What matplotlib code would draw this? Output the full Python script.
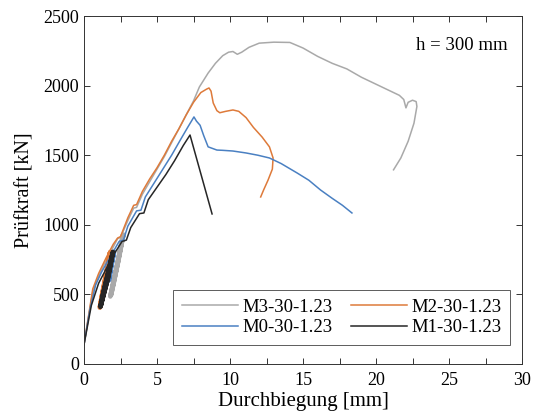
import matplotlib
matplotlib.use("Agg")
import matplotlib.pyplot as plt

plt.rcParams['font.family'] = ['Liberation Serif', 'DejaVu Serif']
plt.rcParams['mathtext.fontset'] = 'stix'

# ---- data (deflection mm, force kN) ----
m3_x = [0, 0.3, 0.6, 1.0, 1.5, 2.0, 2.3, 2.5, 3.0, 3.4, 3.6, 4.0, 4.5, 5.0, 5.5, 6.0, 6.5, 7.0, 7.5, 7.9,
        8.5, 9.0, 9.5, 9.9, 10.2, 10.5, 10.8, 11.3, 12.0, 13.0, 14.1, 15.0, 16.0, 17.0, 18.0, 19.0, 20.0,
        21.0, 21.6, 21.9, 22.05, 22.2, 22.5, 22.75, 22.8, 22.6, 22.2, 21.7, 21.2]
m3_y = [140, 330, 520, 630, 740, 840, 900, 910, 1030, 1120, 1125, 1220, 1310, 1400, 1490, 1590, 1690, 1790, 1890, 1990,
        2090, 2160, 2215, 2240, 2245, 2225, 2240, 2275, 2305, 2312, 2310, 2270, 2210, 2160, 2120, 2060, 2010,
        1960, 1930, 1900, 1840, 1880, 1895, 1885, 1850, 1730, 1600, 1480, 1395]

m2_x = [0, 0.3, 0.6, 1.0, 1.5, 2.0, 2.3, 2.5, 3.0, 3.4, 3.6, 4.0, 4.5, 5.0, 5.5, 6.0, 6.5, 7.0, 7.5, 8.0, 8.4, 8.56,
        8.7, 8.85, 9.1, 9.3, 9.7, 10.2, 10.6, 11.1, 11.6, 12.2, 12.7, 12.95, 12.9, 12.6, 12.3, 12.1]
m2_y = [140, 340, 540, 650, 760, 860, 905, 915, 1050, 1140, 1145, 1240, 1330, 1410, 1500, 1600, 1690, 1790, 1880, 1950, 1975, 1983,
        1960, 1875, 1820, 1805, 1815, 1825, 1815, 1770, 1700, 1630, 1560, 1480, 1400, 1320, 1250, 1200]

m0_x = [0, 0.4, 0.8, 1.2, 1.8, 2.4, 2.7, 3.0, 3.6, 3.9, 4.2, 4.8, 5.4, 6.0, 6.6, 7.1, 7.53,
        7.7, 7.95, 8.2, 8.5, 9.1, 9.5, 10.2, 11.1, 11.9, 12.7, 13.5, 14.6, 15.4, 16.2, 17.0, 17.7, 18.35]
m0_y = [140, 390, 570, 660, 770, 880, 890, 990, 1100, 1105, 1200, 1300, 1400, 1500, 1610, 1700, 1775,
        1745, 1715, 1640, 1560, 1537, 1535, 1530, 1516, 1500, 1480, 1440, 1372, 1320, 1250, 1190, 1140, 1085]

m1_x = [0, 0.5, 1.0, 1.5, 2.0, 2.6, 2.9, 3.2, 3.8, 4.1, 4.4, 5.0, 5.6, 6.2, 6.8, 7.26, 8.77]
m1_y = [140, 420, 580, 680, 780, 880, 890, 980, 1080, 1085, 1180, 1270, 1360, 1460, 1570, 1645, 1078]

# load-cycle bands (repeated unloading/reloading)
m2_loop_x = [1.75, 1.45, 1.08, 1.20, 1.50, 1.78, 1.48, 1.12, 1.25, 1.55, 1.80]
m2_loop_y = [790, 590, 405, 480, 640, 800, 600, 410, 500, 660, 805]
m1_loop_x = [1.97, 1.65, 1.12, 1.25, 1.60, 1.95, 1.62, 1.15, 1.30, 1.70, 1.98]
m1_loop_y = [800, 620, 410, 480, 640, 790, 610, 420, 500, 670, 805]
m3_loop_x = [2.65, 2.30, 1.80, 1.95, 2.35, 2.70, 2.35, 1.85, 2.05, 2.45, 2.68]
m3_loop_y = [925, 720, 485, 560, 760, 930, 740, 495, 590, 800, 925]
m0_loop_x = [2.05, 1.85, 1.70, 1.85, 2.05]
m0_loop_y = [800, 690, 600, 700, 805]

labels = ['M3-30-1.23', 'M2-30-1.23', 'M0-30-1.23', 'M1-30-1.23']
colors = ['#a9a9a9', '#de7a3a', '#4a80c2', '#262626']

fig = plt.figure(figsize=(5.4, 4.19), dpi=100)
ax = fig.add_axes([0.1556, 0.1313, 0.8111, 0.8305])

series = [(m3_x, m3_y, m3_loop_x, m3_loop_y),
          (m2_x, m2_y, m2_loop_x, m2_loop_y),
          (m0_x, m0_y, m0_loop_x, m0_loop_y),
          (m1_x, m1_y, m1_loop_x, m1_loop_y)]
handles = {}
for (x, y, lx, ly), lab, c in zip(series, labels, colors):
    h, = ax.plot(x, y, color=c, lw=1.1, label=lab)
    ax.plot(lx, ly, color=c, lw=3.3, solid_capstyle='round')
    handles[lab] = h

ax.set_xlim(0, 30)
ax.set_ylim(0, 2500)
ax.set_xticks(range(0, 31, 5))
ax.set_xticks([2.5, 7.5, 12.5, 17.5, 22.5, 27.5], minor=True)
ax.set_yticks(range(0, 2501, 500))
ax.tick_params(which='both', direction='in', top=True, right=True, labelsize=13, length=4.5, width=0.7,
               colors='#333333', labelcolor='black')
ax.tick_params(axis='x', pad=6)
for s in ax.spines.values():
    s.set_linewidth(0.7)
    s.set_color('#333333')
ax.set_xlabel('Durchbiegung [mm]', fontsize=15, labelpad=2)
ax.set_ylabel('Prüfkraft [kN]', fontsize=14.5, labelpad=6)

ax.text(29.0, 2290, 'h = 300 mm', ha='right', va='center', fontsize=13.5)

order = ['M3-30-1.23', 'M0-30-1.23', 'M2-30-1.23', 'M1-30-1.23']
leg = ax.legend([handles[k] for k in order], order, ncol=2, loc='lower right',
                bbox_to_anchor=(0.973, 0.055), fontsize=13.5, frameon=True, fancybox=False,
                edgecolor='#333333', handlelength=3.0, handletextpad=0.25, columnspacing=0.95,
                borderpad=0.45, labelspacing=0.2, borderaxespad=0)
leg.get_frame().set_linewidth(0.7)

fig.savefig('out.png', dpi=100)
